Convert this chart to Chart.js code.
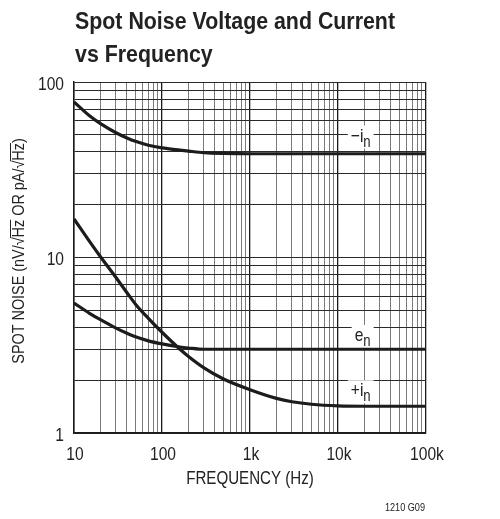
<!DOCTYPE html>
<html>
<head>
<meta charset="utf-8">
<title>Spot Noise Voltage and Current vs Frequency</title>
<script src="https://cdn.jsdelivr.net/npm/chart.js@4.4.1/dist/chart.umd.min.js"></script>
<style>
  html, body { margin: 0; padding: 0; background: #fff; }
  canvas { display: block; }
</style>
</head>
<body>
<canvas id="noiseChart" width="500" height="519"></canvas>
<script>
const FONT = '"Liberation Sans", Arial, sans-serif';
const INK = '#222';

// Frequency points (Hz)
const frequency = [10, 15, 20, 30, 40, 50, 70, 100, 160, 200, 300, 500, 1000, 2000, 3000, 5000, 10000, 20000, 100000];

// -in (pA/rtHz)
const minusIn = [77, 64.2, 57.9, 51.4, 48.0, 45.9, 43.6, 42.1, 40.9, 40.4, 39.6, 39.2, 39, 39, 39, 39, 39, 39, 39];
// en (nV/rtHz)
const voltageEn = [5.5, 4.81, 4.42, 3.96, 3.70, 3.53, 3.35, 3.22, 3.09, 3.05, 3.0, 3.0, 3.0, 3.0, 3.0, 3.0, 3.0, 3.0, 3.0];
// +in (pA/rtHz)
const plusIn = [16.6, 12.36, 10.1, 7.69, 6.3, 5.42, 4.5, 3.75, 3.0, 2.73, 2.35, 2.03, 1.765, 1.575, 1.507, 1.458, 1.427, 1.42, 1.42];

// Grid lines and tick labels
const xGrid = [];
[10, 100, 1000, 10000].forEach(d => { for (let m = 1; m <= 9; m++) xGrid.push(d * m); });
xGrid.push(100000);
const xTickLabels = { 10: '10', 100: '100', 1000: '1k', 10000: '10k', 100000: '100k' };

const yGrid = [];
[1, 10].forEach(d => { for (let m = 1; m <= 9; m++) yGrid.push(d * m); });
yGrid.push(100);
const yTickLabels = { 1: '1', 10: '10', 100: '100' };

// Curve labels: [main, subscript, frequency, value] (right aligned, baseline)
const curveLabels = [
    ['\u2212i', 'n', 23500, 45.8],
    ['e', 'n', 23500, 3.35],
    ['+i', 'n', 23500, 1.62]
];

const isDecade = v => Math.abs(Math.log10(v) - Math.round(Math.log10(v))) < 1e-9;

// condensed text: Liberation Sans squeezed horizontally
function fontOf(size, bold) {
    return `${bold ? 'bold ' : ''}${size}px ${FONT}`;
}
function textWidth(ctx, s, size, bold, sx) {
    ctx.save();
    ctx.font = fontOf(size, bold);
    const w = ctx.measureText(s).width * sx;
    ctx.restore();
    return w;
}
function drawText(ctx, s, x, y, size, opts) {
    const o = Object.assign({ bold: false, sx: 0.82, align: 'left' }, opts);
    ctx.save();
    ctx.font = fontOf(size, o.bold);
    ctx.fillStyle = INK;
    ctx.textAlign = o.align;
    ctx.textBaseline = 'alphabetic';
    ctx.translate(x, y);
    ctx.scale(o.sx, 1);
    ctx.fillText(s, 0, 0);
    ctx.restore();
}

function drawSubLabel(ctx, xRight, y, main, sub) {
    const w1 = textWidth(ctx, main, 19, false, 0.82);
    const w2 = textWidth(ctx, sub, 16, false, 0.82);
    const x = xRight - w1 - w2;
    ctx.save();
    ctx.fillStyle = '#fff';
    ctx.fillRect(x - 3, y - 16, w1 + w2 + 6, 23);
    ctx.restore();
    drawText(ctx, main, x, y, 19);
    drawText(ctx, sub, x + w1, y + 5, 16);
}

const sheetText = {
    id: 'sheetText',
    beforeDatasetsDraw(chart) {
        const { ctx, scales } = chart;
        curveLabels.forEach(([main, sub, f, v]) => {
            drawSubLabel(ctx, scales.x.getPixelForValue(f), scales.y.getPixelForValue(v), main, sub);
        });
    },
    afterDraw(chart) {
        const { ctx, chartArea, scales } = chart;

        // Title
        drawText(ctx, 'Spot Noise Voltage and Current', 75, 28.5, 24, { bold: true, sx: 0.89 });
        drawText(ctx, 'vs Frequency', 75, 62, 24, { bold: true, sx: 0.89 });

        // Tick labels
        Object.keys(xTickLabels).forEach(v => {
            drawText(ctx, xTickLabels[v], scales.x.getPixelForValue(+v) + 1, 459.5, 19, { align: 'center' });
        });
        Object.keys(yTickLabels).forEach(v => {
            drawText(ctx, yTickLabels[v], 64, scales.y.getPixelForValue(+v) + 7.5, 19, { align: 'right' });
        });

        // X axis title
        drawText(ctx, 'FREQUENCY (Hz)', (chartArea.left + chartArea.right) / 2, 483.5, 18, { align: 'center', sx: 0.84 });

        // Footnote
        drawText(ctx, '1210 G09', 425, 510.5, 11, { align: 'right', sx: 0.83 });

        // Y axis title with overlines on the radicands
        const parts = ['SPOT NOISE (nV/\u221A', 'Hz', ' OR pA/\u221A', 'Hz', ')'];
        const sx = 0.9;
        const widths = parts.map(p => textWidth(ctx, p, 16, false, sx));
        const total = widths.reduce((a, b) => a + b, 0);
        ctx.save();
        ctx.translate(24, 251);
        ctx.rotate(-Math.PI / 2);
        ctx.strokeStyle = INK;
        ctx.lineWidth = 1;
        let x = -total / 2;
        parts.forEach((p, i) => {
            drawText(ctx, p, x, 0, 16, { sx });
            if (p === 'Hz') {
                ctx.beginPath();
                ctx.moveTo(x - 0.5, -13.5);
                ctx.lineTo(x + widths[i], -13.5);
                ctx.stroke();
            }
            x += widths[i];
        });
        ctx.restore();
    }
};

const ctxNoise = document.getElementById('noiseChart').getContext('2d');
new Chart(ctxNoise, {
    type: 'line',
    data: {
        labels: frequency,
        datasets: [
            { label: '-in', data: frequency.map((f, i) => ({ x: f, y: minusIn[i] })) },
            { label: 'en', data: frequency.map((f, i) => ({ x: f, y: voltageEn[i] })) },
            { label: '+in', data: frequency.map((f, i) => ({ x: f, y: plusIn[i] })) }
        ].map(ds => Object.assign(ds, {
            borderColor: '#1c1c1c',
            borderWidth: 3.2,
            pointRadius: 0,
            fill: false,
            cubicInterpolationMode: 'monotone'
        }))
    },
    options: {
        responsive: false,
        animation: false,
        events: [],
        layout: { padding: { top: 82, right: 74, left: 0, bottom: 0 } },
        plugins: {
            legend: { display: false },
            title: { display: false },
            tooltip: { enabled: false }
        },
        scales: {
            x: {
                type: 'logarithmic',
                min: 10,
                max: 100000,
                afterBuildTicks: scale => { scale.ticks = xGrid.map(v => ({ value: v })); },
                afterFit: scale => { scale.height = 86; },
                ticks: { display: false, autoSkip: false },
                grid: {
                    drawTicks: false,
                    color: c => (isDecade(c.tick.value) ? '#1a1a1a' : '#7a7a7a'),
                    lineWidth: c => (isDecade(c.tick.value) ? 1.3 : 1)
                },
                border: { display: true, color: '#1a1a1a', width: 1.5 }
            },
            y: {
                type: 'logarithmic',
                min: 1,
                max: 100,
                afterBuildTicks: scale => { scale.ticks = yGrid.map(v => ({ value: v })); },
                afterFit: scale => { scale.width = 74; },
                ticks: { display: false, autoSkip: false },
                grid: {
                    drawTicks: false,
                    color: '#2a2a2a',
                    lineWidth: 1
                },
                border: { display: true, color: '#1a1a1a', width: 1.5 }
            }
        }
    },
    plugins: [sheetText]
});
</script>
</body>
</html>
